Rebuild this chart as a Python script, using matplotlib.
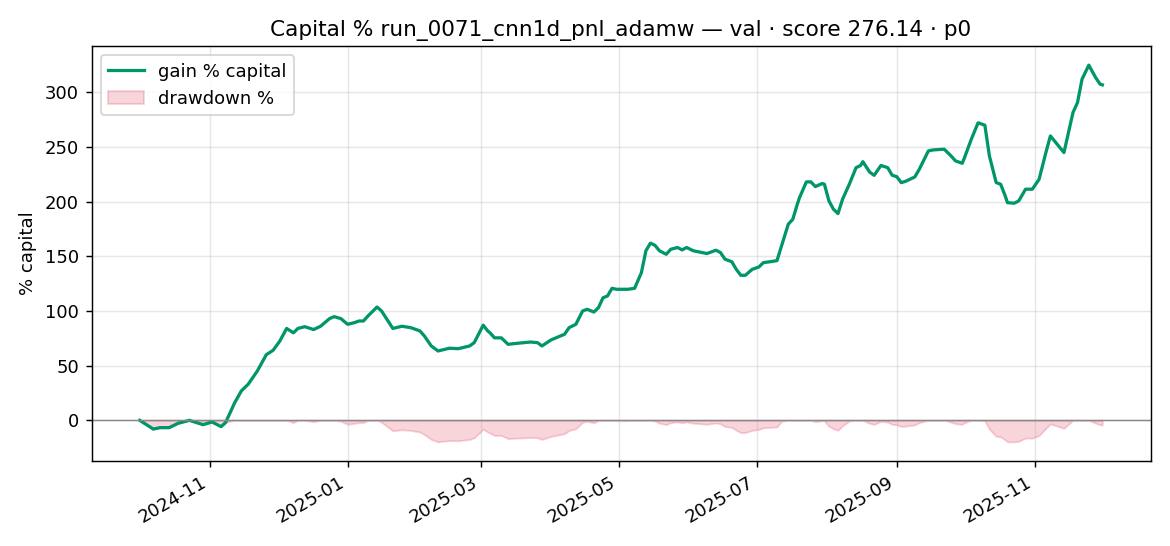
import matplotlib
matplotlib.use("Agg")
import matplotlib.pyplot as plt
import matplotlib.dates as mdates
import numpy as np
import pandas as pd

start_date = "2024-10-01"
day_offsets = [0, 6, 9, 13, 17, 22, 28, 32, 36, 38, 42, 45, 48, 51, 52, 56, 59, 62, 65, 68,
               70, 73, 77, 80, 84, 86, 89, 92, 95, 97, 99, 101, 105, 107, 112, 116, 120, 124, 126, 129,
               132, 137, 141, 146, 148, 152, 154, 155, 157, 160, 163, 167, 173, 176, 178, 182, 186, 188, 190, 193,
               196, 198, 201, 203, 205, 207, 209, 211, 216, 219, 222, 224, 226, 228, 230, 233, 235, 238, 240, 242,
               245, 251, 255, 257, 259, 262, 264, 266, 268, 271, 274, 276, 279, 282, 284, 287, 289, 291, 292, 295,
               297, 299, 302, 303, 305, 307, 309, 311, 314, 317, 319, 320, 323, 325, 328, 331, 333, 335, 337, 339,
               343, 345, 349, 351, 356, 359, 361, 364, 365, 368, 371, 374, 376, 379, 381, 383, 384, 387, 389, 392,
               395, 398, 401, 403, 406, 409, 413, 415, 417, 420, 423, 425, 426]
gain_pct = [0, -8, -6.7, -6.7, -2.7, 0, -4, -1.5, -5.8, -2, 16, 27, 33, 42, 45, 60, 64, 72.5, 84, 80,
            84, 85.6, 83, 86, 93, 94.8, 93, 87.8, 89.3, 90.8, 90.8, 95.4, 103.6, 100, 84, 86, 84.7, 81.7, 77, 68,
            63.4, 65.9, 65.5, 68, 71, 87, 81.7, 80, 75.4, 75.4, 69.5, 70.4, 71.6, 71, 68, 73.5, 77, 78.7, 84.7, 87.8,
            100, 101.5, 99, 103, 112, 113.7, 120.7, 119.8, 119.8, 120.7, 135, 155, 162, 160, 155, 151.8, 156.4, 158, 155.8, 158,
            155, 152.5, 155.5, 153.4, 147.3, 145, 138, 132.6, 132.6, 138, 140.2, 144.2, 145, 146, 159.4, 179.3, 183.8, 197.6, 203.7, 218,
            218, 213.7, 216.5, 215.8, 200.6, 193, 189, 202, 215.8, 231, 233, 236.5, 227, 224, 233, 231, 224, 222.8, 217.3, 218.6,
            222.5, 229.6, 246.3, 247.2, 247.9, 241.8, 237.2, 235, 240.2, 257, 272, 269.8, 241.8, 217.4, 215.8, 205.2, 199, 198.5, 200.6, 211.3,
            211.3, 220.4, 244.8, 260, 252.4, 244.8, 281.4, 290.5, 311.9, 324.7, 313.4, 307.3, 306.7]

dates = pd.Timestamp(start_date) + pd.to_timedelta(day_offsets, unit="D")
gain = np.array(gain_pct)
equity = 1 + gain / 100.0
dd = (equity / np.maximum.accumulate(equity) - 1) * 100.0

fig, ax = plt.subplots(figsize=(9, 4.2), dpi=130)
ax.plot(dates, gain, color="#00966a", lw=1.8, label="gain % capital")
ax.fill_between(dates, dd, 0, color="crimson", alpha=0.18, label="drawdown %")
ax.axhline(0, color="#888888", lw=0.8)
ax.grid(True, alpha=0.3)
ax.set_ylabel("% capital")
ax.set_title("Capital % run_0071_cnn1d_pnl_adamw — val · score 276.14 · p0")
ax.legend(loc="upper left")
ax.xaxis.set_major_locator(mdates.MonthLocator(bymonth=[1, 3, 5, 7, 9, 11]))
ax.xaxis.set_major_formatter(mdates.DateFormatter("%Y-%m"))
fig.autofmt_xdate()
fig.tight_layout()
fig.savefig("out.png")
